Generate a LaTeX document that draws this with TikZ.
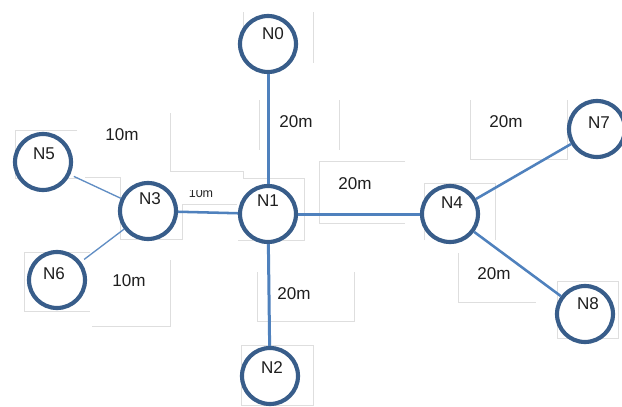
\documentclass[tikz,border=0pt]{standalone}
\usepackage{fontspec}
\setmainfont{Liberation Sans}
\definecolor{edgeblue}{HTML}{4F81BD}
\definecolor{circblue}{HTML}{385D8A}
\definecolor{boxgray}{HTML}{DEDEDE}
\begin{document}
\begin{tikzpicture}[x=0.75pt,y=-0.75pt,
  nodecirc/.style={circle,draw=circblue,line width=3.1pt,fill=white,minimum size=42pt,inner sep=0pt},
  txt/.style={font=\fontsize{12.8}{14}\selectfont,inner sep=0pt,text=black!88},
  smalltxt/.style={font=\fontsize{9.4}{11}\selectfont,inner sep=0pt,text=black!85},
  mainedge/.style={draw=edgeblue,line width=2.25pt},
  midedge/.style={draw=edgeblue,line width=1.9pt},
  thinedge/.style={draw=edgeblue!90,line width=1pt},
  boxline/.style={draw=boxgray,line width=0.75pt}]
\useasboundingbox (0,0) rectangle (622,407);
\fill[white] (0,0) rectangle (622,407);
% faint text-box outlines
\draw[boxline] (243,12)--(243,45) (313,12)--(313,63);
\draw[boxline] (259,100)--(259,150) (339,100)--(339,150);
\draw[boxline] (77,130)--(15,130)--(15,178)--(77,178);
\draw[boxline] (170,113)--(170,171)--(243,171)--(243,178);
\draw[boxline] (243,178)--(304,178)--(304,240)--(238,240);
\draw[boxline] (85,177)--(120,177)--(120,239)--(182,239)--(182,204)--(237,204);
\draw[boxline] (405,161)--(319,161)--(319,223)--(405,223);
\draw[boxline] (424,240)--(424,183)--(495,183)--(495,240);
\draw[boxline] (470,100)--(470,159)--(567,159)--(567,100);
\draw[boxline] (458,253)--(458,302)--(536,302);
\draw[boxline] (557,281) rectangle (618,338);
\draw[boxline] (90,252)--(24,252)--(24,311)--(90,311);
\draw[boxline] (170,260)--(170,326)--(92,326);
\draw[boxline] (257,272)--(257,321)--(354,321)--(354,272);
\draw[boxline] (241,345) rectangle (313,405);
% nodes
\node[nodecirc] (n0) at (268,44) {};
\node[nodecirc] (n1) at (268,214) {};
\node[nodecirc] (n2) at (270,376) {};
\node[nodecirc] (n3) at (148,211) {};
\node[nodecirc] (n4) at (450,214) {};
\node[nodecirc] (n5) at (43,162) {};
\node[nodecirc] (n6) at (57,280) {};
\node[nodecirc] (n7) at (597,129) {};
\node[nodecirc] (n8) at (585,314) {};
% edges
\draw[mainedge] (n0) -- (n1);
\draw[mainedge] (n1) -- (n2);
\draw[mainedge] (n1) -- (n4);
\draw[midedge] (n3) -- (n1);
\draw[midedge] (n4) -- (n7);
\draw[midedge] (n4) -- (n8);
\draw[thinedge,shorten <=3pt] (n5) -- (n3);
\draw[thinedge,shorten <=3pt] (n6) -- (n3);
% node labels
\node[txt] (t0) at (273,34) {N0};
\node[txt] (t1) at (268,201) {N1};
\node[txt] (t2) at (272,368) {N2};
\node[txt] (t3) at (150,199) {N3};
\node[txt] (t4) at (452,203) {N4};
\node[txt] (t5) at (44,154) {N5};
\node[txt] (t6) at (54,274) {N6};
\node[txt] (t7) at (599,123) {N7};
\node[txt] (t8) at (588,304) {N8};
% edge labels
\node[txt] (l35) at (122,135) {10m};
\node[txt] (l36) at (129,281) {10m};
\node[txt] (l01) at (296,122) {20m};
\node[txt] (l14) at (355,184) {20m};
\node[txt] (l47) at (506,122) {20m};
\node[txt] (l48) at (494,274) {20m};
\node[txt] (l12) at (294,294) {20m};
\begin{scope}
\clip (180,190) rectangle (225,202);
\node[smalltxt,anchor=base] (l31) at (201,197) {10m};
\end{scope}
\end{tikzpicture}
\end{document}
